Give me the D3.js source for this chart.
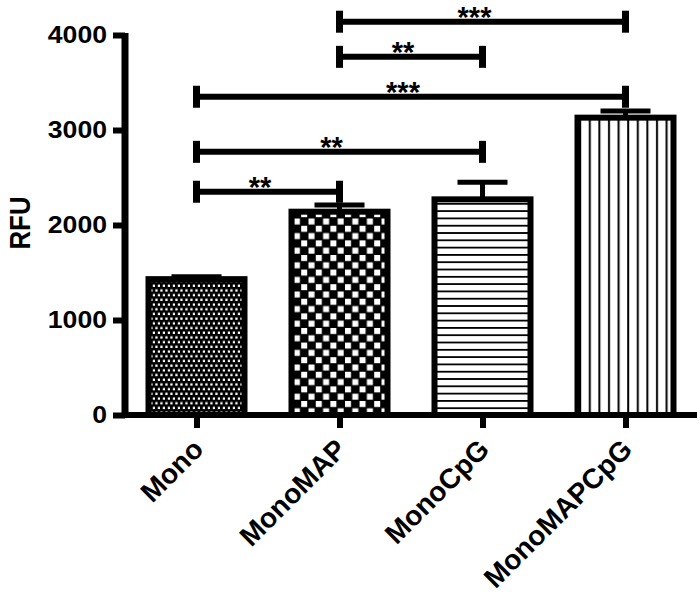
<!DOCTYPE html>
<html>
<head>
<meta charset="utf-8">
<script src="https://cdn.jsdelivr.net/npm/d3@7"></script>
<style>
  body { margin: 0; background: #fff; }
  svg text { font-family: Arial, "Liberation Sans", sans-serif; }
</style>
</head>
<body>
<div class="center"></div>
<script>
// data
var categories = ["Mono", "MonoMAP", "MonoCpG", "MonoMAPCpG"];
var means = [1430, 2140, 2270, 3130];
var errors = [25, 70, 180, 70];
var fills = ["dots", "checks", "hlines", "vlines"];
var yTicks = [0, 1000, 2000, 3000, 4000];

// significance brackets
var bracketFrom = [1, 1, 0, 0, 0];
var bracketTo = [3, 2, 3, 2, 1];
var bracketLevel = [4140, 3770, 3350, 2770, 2350];
var bracketLabel = ["***", "**", "***", "**", "**"];

var margin = {top: 35, right: 3, bottom: 180, left: 125},
    width = 700 - margin.left - margin.right,
    height = 595 - margin.top - margin.bottom;

var svg = d3.select(".center").append("svg")
    .attr("width", 700)
    .attr("height", 595);

// hatch patterns
var defs = svg.append("defs");

var p = defs.append("pattern").attr("id", "dots")
    .attr("patternUnits", "userSpaceOnUse")
    .attr("width", 5).attr("height", 9.4);
p.append("rect").attr("width", 5).attr("height", 9.4).attr("fill", "#000");
p.append("rect").attr("x", 0.3).attr("y", 0.5).attr("width", 2.3).attr("height", 2.3).attr("fill", "#fff");
p.append("rect").attr("x", 2.8).attr("y", 5.2).attr("width", 2.3).attr("height", 2.3).attr("fill", "#fff");

p = defs.append("pattern").attr("id", "checks")
    .attr("patternUnits", "userSpaceOnUse")
    .attr("width", 14.6).attr("height", 14.6);
p.append("rect").attr("width", 14.6).attr("height", 14.6).attr("fill", "#000");
p.append("rect").attr("x", 1).attr("y", 1).attr("width", 6).attr("height", 6).attr("fill", "#fff");
p.append("rect").attr("x", 8.3).attr("y", 8.3).attr("width", 6).attr("height", 6).attr("fill", "#fff");

p = defs.append("pattern").attr("id", "hlines")
    .attr("patternUnits", "userSpaceOnUse")
    .attr("width", 10).attr("height", 7.3);
p.append("rect").attr("width", 10).attr("height", 7.3).attr("fill", "#fff");
p.append("rect").attr("y", 0).attr("width", 10).attr("height", 1.8).attr("fill", "#000");

p = defs.append("pattern").attr("id", "vlines")
    .attr("patternUnits", "userSpaceOnUse")
    .attr("width", 9.6).attr("height", 10);
p.append("rect").attr("width", 9.6).attr("height", 10).attr("fill", "#fff");
p.append("rect").attr("x", 3).attr("width", 2).attr("height", 10).attr("fill", "#000");

var g = svg.append("g")
    .attr("transform", "translate(" + margin.left + "," + margin.top + ")");

// scales
var x = d3.scalePoint().domain(categories).range([0, width]).padding(0.5);
var y = d3.scaleLinear().domain([0, 4000]).range([height, 0]);
var barW = 96;

// bars
g.selectAll(".bar")
    .data(categories)
    .enter().append("rect")
    .attr("class", "bar")
    .attr("x", function(d) { return x(d) - barW / 2; })
    .attr("width", barW)
    .attr("y", function(d, i) { return y(means[i]); })
    .attr("height", function(d, i) { return height - y(means[i]); })
    .attr("fill", function(d, i) { return "url(#" + fills[i] + ")"; })
    .attr("stroke", "#000")
    .attr("stroke-width", 6);

// error bars
g.selectAll(".err")
    .data(categories)
    .enter().append("line")
    .attr("x1", function(d) { return x(d); })
    .attr("x2", function(d) { return x(d); })
    .attr("y1", function(d, i) { return y(means[i]); })
    .attr("y2", function(d, i) { return y(means[i] + errors[i]); })
    .attr("stroke", "#000").attr("stroke-width", 5);

g.selectAll(".cap")
    .data(categories)
    .enter().append("line")
    .attr("x1", function(d) { return x(d) - 25; })
    .attr("x2", function(d) { return x(d) + 25; })
    .attr("y1", function(d, i) { return y(means[i] + errors[i]); })
    .attr("y2", function(d, i) { return y(means[i] + errors[i]); })
    .attr("stroke", "#000").attr("stroke-width", 5);

// Y axis
var yAxis = g.append("g")
    .call(d3.axisLeft(y).tickValues(yTicks).tickSize(12).tickPadding(6).tickFormat(d3.format("d")));
yAxis.select(".domain").attr("d", "M0," + (height + 3) + "V-2").attr("stroke-width", 7);
yAxis.selectAll(".tick line").attr("stroke-width", 6);
yAxis.selectAll(".tick text")
    .style("font-size", "23px")
    .style("font-weight", "bold")
    .attr("fill", "#000")
    .attr("textLength", function(d) { return String(d).length * 14.8; })
    .attr("lengthAdjust", "spacingAndGlyphs");

// X axis
var xAxis = g.append("g")
    .attr("transform", "translate(0," + height + ")")
    .call(d3.axisBottom(x).tickSize(13).tickSizeOuter(0));
xAxis.select(".domain").attr("d", "M-3,0H" + width).attr("stroke-width", 6);
xAxis.selectAll(".tick line").attr("stroke-width", 6);
xAxis.selectAll(".tick text")
    .attr("x", 0).attr("y", 0).attr("dy", 0)
    .attr("transform", "translate(8,36) rotate(-45)")
    .style("text-anchor", "end")
    .style("font-size", "28px")
    .style("font-weight", "bold")
    .attr("fill", "#000");

// y label
svg.append("text")
    .attr("transform", "translate(30,223) rotate(-90)")
    .style("text-anchor", "middle")
    .style("font-size", "30px")
    .style("font-weight", "bold")
    .attr("textLength", 53)
    .attr("lengthAdjust", "spacingAndGlyphs")
    .text("RFU");

// significance brackets
var br = g.selectAll(".bracket")
    .data(bracketLabel)
    .enter().append("g");

br.append("line")
    .attr("x1", function(d, i) { return x(categories[bracketFrom[i]]); })
    .attr("x2", function(d, i) { return x(categories[bracketTo[i]]); })
    .attr("y1", function(d, i) { return y(bracketLevel[i]); })
    .attr("y2", function(d, i) { return y(bracketLevel[i]); })
    .attr("stroke", "#000").attr("stroke-width", 6);

br.append("line")
    .attr("x1", function(d, i) { return x(categories[bracketFrom[i]]); })
    .attr("x2", function(d, i) { return x(categories[bracketFrom[i]]); })
    .attr("y1", function(d, i) { return y(bracketLevel[i]) - 11; })
    .attr("y2", function(d, i) { return y(bracketLevel[i]) + 11; })
    .attr("stroke", "#000").attr("stroke-width", 7);

br.append("line")
    .attr("x1", function(d, i) { return x(categories[bracketTo[i]]); })
    .attr("x2", function(d, i) { return x(categories[bracketTo[i]]); })
    .attr("y1", function(d, i) { return y(bracketLevel[i]) - 11; })
    .attr("y2", function(d, i) { return y(bracketLevel[i]) + 11; })
    .attr("stroke", "#000").attr("stroke-width", 7);

br.append("text")
    .attr("x", function(d, i) { return (x(categories[bracketFrom[i]]) + x(categories[bracketTo[i]])) / 2 - 8; })
    .attr("y", function(d, i) { return y(bracketLevel[i]) + 5; })
    .style("text-anchor", "middle")
    .style("font-size", "29px")
    .style("font-weight", "bold")
    .text(function(d) { return d; });
</script>
</body>
</html>
